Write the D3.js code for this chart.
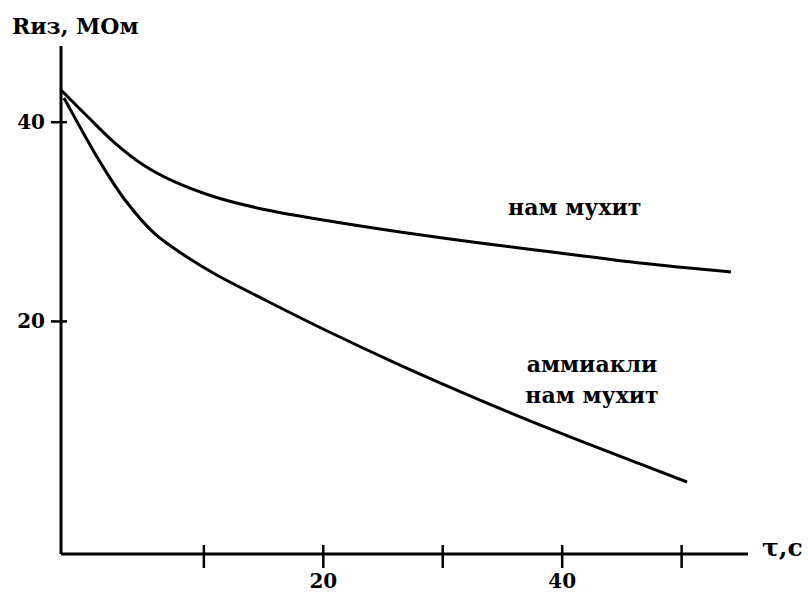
<!DOCTYPE html>
<html><head><meta charset="utf-8">
<script src="https://cdn.jsdelivr.net/npm/d3@7"></script>
<style>body{margin:0;background:#fff}svg{display:block}</style>
</head><body>
<script>
// Data
const seriesNames = ["нам мухит", "аммиакли нам мухит"];
const timeUpper = [-1.92, 0.34, 2.60, 5.11, 7.62, 10.97, 15.33, 20.02, 26.46, 33.16, 39.86, 46.56, 54.17];
const resUpper  = [43.18, 40.47, 37.86, 35.55, 33.95, 32.44, 31.13, 30.13, 28.93, 27.82, 26.82, 25.81, 24.91];
const timeLower = [-1.67, -0.33, 1.35, 3.44, 5.95, 8.63, 10.97, 15.33, 20.02, 26.46, 33.16, 39.86, 46.56, 50.49];
const resLower  = [42.38, 39.47, 35.95, 32.14, 28.73, 26.42, 24.71, 22.0, 19.19, 15.57, 12.06, 8.75, 5.64, 3.83];
const xTicks = [10, 20, 30, 40, 50];
const xTickLabels = ["", "20", "", "40", ""];
const yTicks = [20, 40];
const yTickLabels = ["20", "40"];
const xDomain = [-1.92, 55.6];
const yDomain = [-3.4, 47.6];
const yTitle = "Rиз, МОм";
const xTitle = "τ,с";

const W = 808, H = 592;
const m = {left: 61, right: 60, top: 46, bottom: 38};
const FONT = "DejaVu Serif";
const svg = d3.select("body").append("svg").attr("width", W).attr("height", H)
  .attr("font-family", FONT).attr("font-weight", "bold");
const x = d3.scaleLinear().domain(xDomain).range([m.left, W - m.right]);
const y = d3.scaleLinear().domain(yDomain).range([H - m.bottom, m.top]);

// axes
const xAxis = d3.axisBottom(x).tickValues(xTicks).tickFormat((d, i) => xTickLabels[i]).tickSizeOuter(0);
const gx = svg.append("g").attr("transform", `translate(0,${y(yDomain[0])})`).call(xAxis);
gx.select(".domain").attr("stroke", "#000").attr("stroke-width", 3).attr("d", `M${x(xDomain[0])},0H${x(xDomain[1])}`);
gx.selectAll(".tick line").attr("stroke", "#000").attr("stroke-width", 2.5).attr("y1", -9).attr("y2", 14);
gx.selectAll(".tick text").attr("y", 34).attr("dy", 0).attr("fill", "#000").attr("font-size", 20);

const yAxis = d3.axisLeft(y).tickValues(yTicks).tickFormat((d, i) => yTickLabels[i]).tickSizeOuter(0);
const gy = svg.append("g").attr("transform", `translate(${x(xDomain[0])},0)`).call(yAxis);
gy.select(".domain").attr("stroke", "#000").attr("stroke-width", 3).attr("d", `M0,${y(yDomain[1])}V${y(yDomain[0])}`);
gy.selectAll(".tick line").attr("stroke", "#000").attr("stroke-width", 2.5).attr("x1", -10).attr("x2", 6);
gy.selectAll(".tick text").attr("x", -16).attr("dy", "0.35em").attr("fill", "#000").attr("font-size", 20);
gx.attr("font-family", FONT).attr("font-size", null);
gy.attr("font-family", FONT).attr("font-size", null);

// lines
const line = d3.line().x(d => x(d[0])).y(d => y(d[1])).curve(d3.curveCatmullRom.alpha(0.5));
const upper = timeUpper.map((t, i) => [t, resUpper[i]]);
const lower = timeLower.map((t, i) => [t, resLower[i]]);
[upper, lower].forEach(s => svg.append("path").datum(s).attr("d", line)
  .attr("fill", "none").attr("stroke", "#000").attr("stroke-width", 3));

// labels
const txt = (s, px, py, size, anchor) => svg.append("text").text(s).attr("x", px).attr("y", py)
  .attr("text-anchor", anchor || "middle").attr("fill", "#000").attr("font-size", size);
txt(yTitle, 12, 34, 22, "start");
txt(xTitle, 762, 556, 25, "start");
txt(seriesNames[0], x(41.1), y(30.6), 22);
txt("аммиакли", x(42.54), y(14.87), 22);
txt("нам мухит", x(42.54), y(11.76), 22);
</script>
</body></html>
